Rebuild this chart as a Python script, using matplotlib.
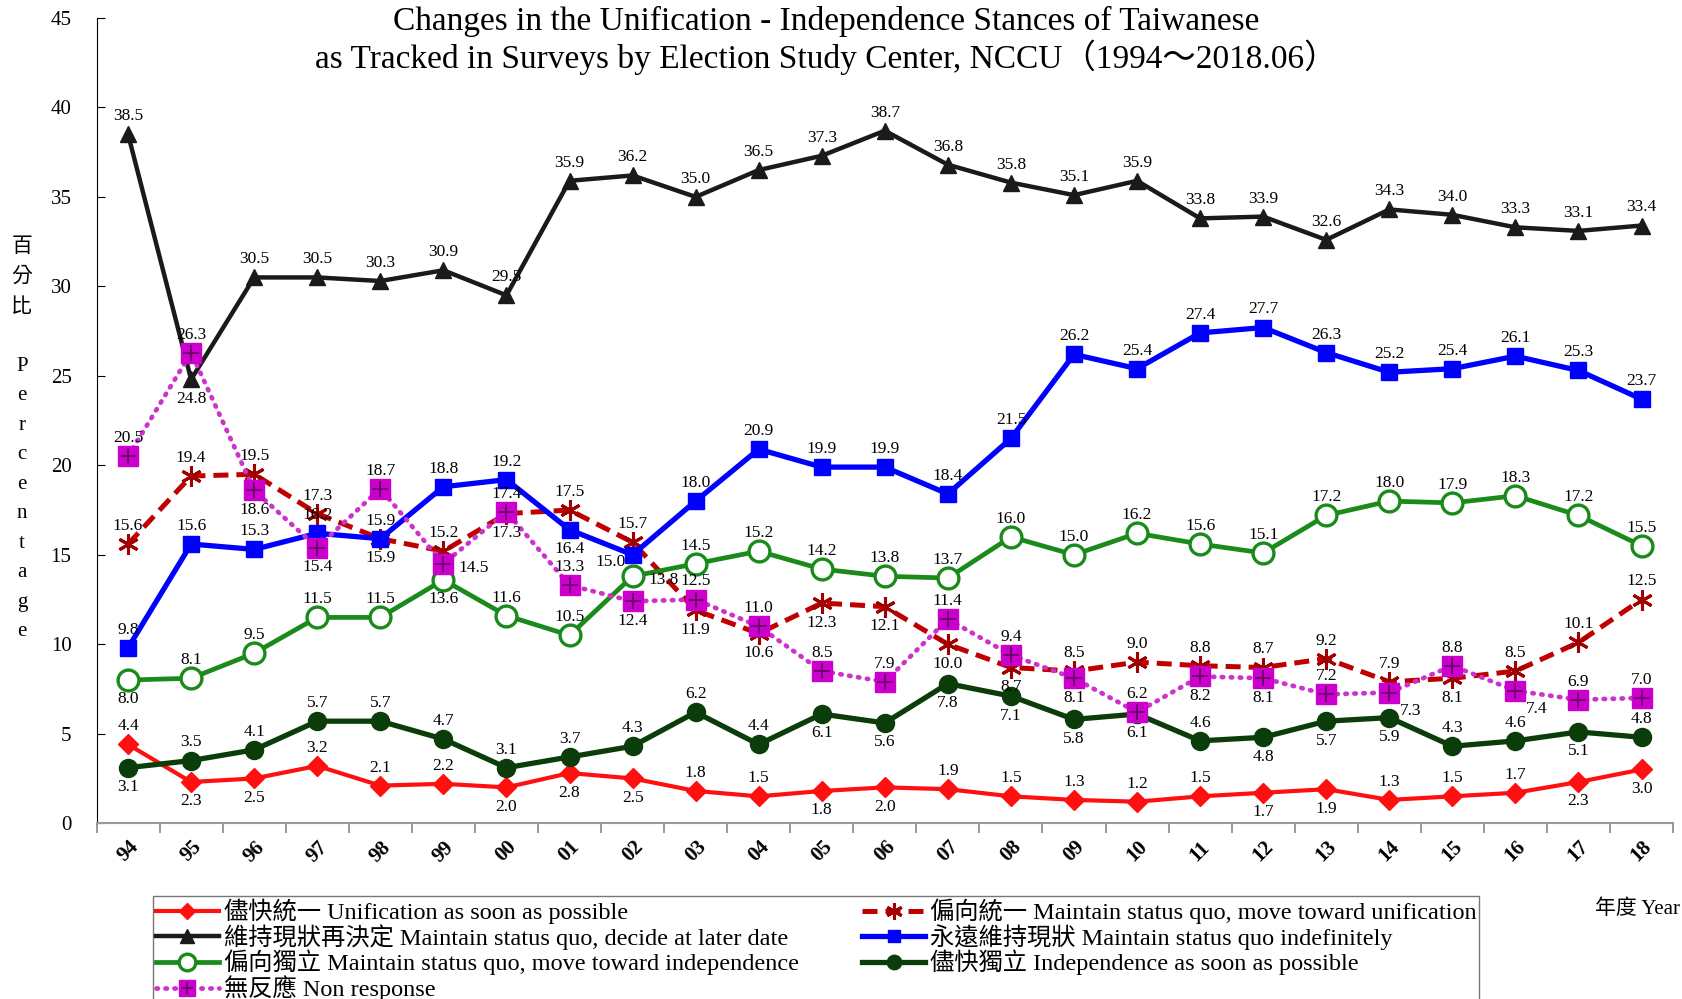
import matplotlib
matplotlib.use("Agg")
import matplotlib.pyplot as plt

plt.rcParams['font.family'] = ['Liberation Serif', 'Noto Sans CJK TC', 'DejaVu Sans']

years = ['94', '95', '96', '97', '98', '99', '00', '01', '02', '03', '04', '05', '06',
         '07', '08', '09', '10', '11', '12', '13', '14', '15', '16', '17', '18']

unif_soon = [4.4, 2.3, 2.5, 3.2, 2.1, 2.2, 2.0, 2.8, 2.5, 1.8, 1.5, 1.8, 2.0,
             1.9, 1.5, 1.3, 1.2, 1.5, 1.7, 1.9, 1.3, 1.5, 1.7, 2.3, 3.0]
toward_unif = [15.6, 19.4, 19.5, 17.3, 15.9, 15.2, 17.3, 17.5, 15.7, 11.9, 10.6, 12.3, 12.1,
               10.0, 8.7, 8.5, 9.0, 8.8, 8.7, 9.2, 7.9, 8.1, 8.5, 10.1, 12.5]
decide_later = [38.5, 24.8, 30.5, 30.5, 30.3, 30.9, 29.5, 35.9, 36.2, 35.0, 36.5, 37.3, 38.7,
                36.8, 35.8, 35.1, 35.9, 33.8, 33.9, 32.6, 34.3, 34.0, 33.3, 33.1, 33.4]
indefinitely = [9.8, 15.6, 15.3, 16.2, 15.9, 18.8, 19.2, 16.4, 15.0, 18.0, 20.9, 19.9, 19.9,
                18.4, 21.5, 26.2, 25.4, 27.4, 27.7, 26.3, 25.2, 25.4, 26.1, 25.3, 23.7]
toward_indep = [8.0, 8.1, 9.5, 11.5, 11.5, 13.6, 11.6, 10.5, 13.8, 14.5, 15.2, 14.2, 13.8,
                13.7, 16.0, 15.0, 16.2, 15.6, 15.1, 17.2, 18.0, 17.9, 18.3, 17.2, 15.5]
indep_soon = [3.1, 3.5, 4.1, 5.7, 5.7, 4.7, 3.1, 3.7, 4.3, 6.2, 4.4, 6.1, 5.6,
              7.8, 7.1, 5.8, 6.1, 4.6, 4.8, 5.7, 5.9, 4.3, 4.6, 5.1, 4.8]
non_response = [20.5, 26.3, 18.6, 15.4, 18.7, 14.5, 17.4, 13.3, 12.4, 12.5, 11.0, 8.5, 7.9,
                11.4, 9.4, 8.1, 6.2, 8.2, 8.1, 7.2, 7.3, 8.8, 7.4, 6.9, 7.0]

# where each value label sits: a = above, b = below, r = right, l = left, d = below right
pos_unif_soon = 'abbaaabbbaabbaaaaabbaaabb'
pos_toward_unif = 'aaaababaabbbbbbaaaaaabaaa'
pos_decide_later = 'abaaaaaaaaaaaaaaaaaaaaaaa'
pos_indefinitely = 'aaaaaaablaaaaaaaaaaaaaaaa'
pos_toward_indep = 'baaaabaaraaaaaaaaaaaaaaaa'
pos_indep_soon = 'baaaaaaaaaabbbbbbabbbaaba'
pos_non_response = 'aabbaraabaaaaaababbadadaa'

x = list(range(len(years)))

fig = plt.figure(figsize=(16.82, 9.99), dpi=100)
ax = fig.add_axes([0.0574, 0.176, 0.9373, 0.806])

ax.plot(x, unif_soon, color='#ff1010', lw=3.0, marker='D', ms=10, zorder=3)
ax.plot(x, toward_unif, color='#c00000', lw=3.6, ls=(0, (3, 1.6)), marker=(6, 2, 0),
        ms=15, mew=2.2, mec='#a00000', zorder=3)
ax.plot(x, decide_later, color='#1a1a1a', lw=3.2, marker='^', ms=12, zorder=3)
ax.plot(x, indefinitely, color='#0000ff', lw=3.8, marker='s', ms=11, zorder=3)
ax.plot(x, toward_indep, color='#1a8a1a', lw=3.4, marker='o', ms=15, mfc='white',
        mew=2.4, zorder=3)
ax.plot(x, indep_soon, color='#0b3d0b', lw=3.8, marker='o', ms=13, zorder=3)
ax.plot(x, non_response, color='#cc33cc', lw=3.4, ls=(0, (0.3, 1.6)),
        dash_capstyle='round', marker='s', ms=14, mfc='#cc00cc', mec='#cc00cc', zorder=4)
ax.plot(x, non_response, ls='none', marker='+', ms=11, mew=1.4, color='#700070', zorder=5)

series = [(unif_soon, pos_unif_soon), (toward_unif, pos_toward_unif),
          (decide_later, pos_decide_later), (indefinitely, pos_indefinitely),
          (toward_indep, pos_toward_indep), (indep_soon, pos_indep_soon),
          (non_response, pos_non_response)]
offs = {'a': (0, 13), 'b': (0, -14), 'r': (22, -3), 'l': (-16, -5), 'd': (15, -13)}
for vals, pos in series:
    for i, v in enumerate(vals):
        ax.annotate('%.1f' % v, (i, v), xytext=offs[pos[i]], textcoords='offset points',
                    ha='center', va='center', fontsize=12.5, zorder=6)

ax.set_xlim(-0.5, 24.5)
ax.set_ylim(0, 45)
ax.set_yticks(range(0, 46, 5))
ax.tick_params(axis='y', direction='in', length=6, pad=18, labelsize=15)
ax.set_xticks(x)
ax.set_xticklabels(years, rotation=45, fontsize=15, fontweight='bold')
ax.set_xticks([i - 0.5 for i in range(len(years) + 1)], minor=True)
ax.tick_params(axis='x', which='major', length=0, pad=10)
ax.tick_params(axis='x', which='minor', length=7, width=1.2, color='#888888')
ax.spines['top'].set_visible(False)
ax.spines['right'].set_visible(False)
ax.spines['bottom'].set_color('#999999')
ax.spines['bottom'].set_linewidth(1.5)

fig.text(0.491, 0.994, 'Changes in the Unification - Independence Stances of Taiwanese\n'
         'as Tracked in Surveys by Election Study Center, NCCU（1994～2018.06）',
         ha='center', va='top', fontsize=24, linespacing=1.1)

fig.text(0.013, 0.56, '百\n分\n比\n\nP\ne\nr\nc\ne\nn\nt\na\ng\ne', ha='center', va='center',
         fontsize=15, linespacing=1.75)
fig.text(0.999, 0.09, '年度 Year', ha='right', va='center', fontsize=15)

h = ax.get_lines()
labels = ['儘快統一 Unification as soon as possible',
          '維持現狀再決定 Maintain status quo, decide at later date',
          '偏向獨立 Maintain status quo, move toward independence',
          '無反應 Non response',
          '偏向統一 Maintain status quo, move toward unification',
          '永遠維持現狀 Maintain status quo indefinitely',
          '儘快獨立 Independence as soon as possible']
handles = [h[0], h[2], h[4], (h[6], h[7]), h[1], h[3], h[5]]
leg = fig.legend(handles, labels, ncol=2, loc='upper left', bbox_to_anchor=(0.0912, 0.103),
                 borderaxespad=0, fontsize=17.5, frameon=True, fancybox=False,
                 edgecolor='#555555', handlelength=2.6, handletextpad=0.2,
                 columnspacing=2.6, labelspacing=0.0, borderpad=0.1, markerscale=0.8)
leg.get_frame().set_linewidth(1.0)

fig.savefig('out.png', dpi=100)
